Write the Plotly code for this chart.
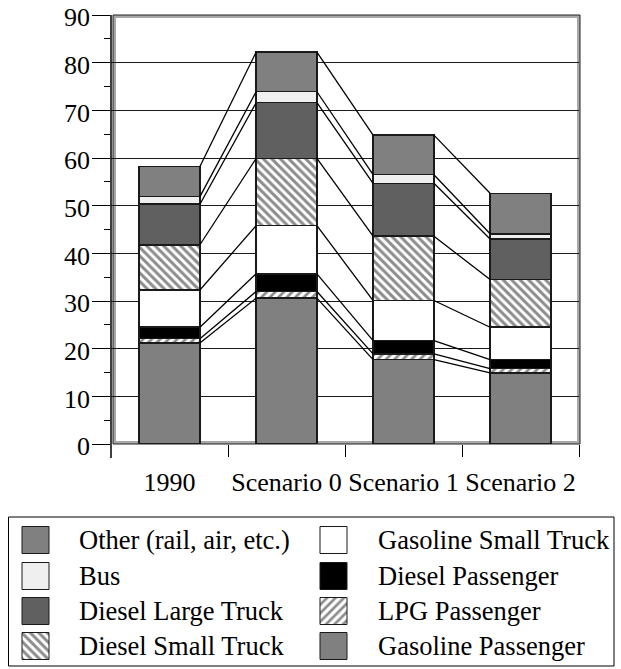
import plotly.graph_objects as go

# ---------------- data ----------------
categories = ["1990", "Scenario 0", "Scenario 1", "Scenario 2"]
gasoline_passenger = [21.2, 30.6, 17.7, 14.9]
lpg_passenger = [0.9, 1.4, 1.2, 0.9]
diesel_passenger = [2.4, 3.7, 2.8, 1.9]
gasoline_small_truck = [7.8, 10.1, 8.4, 6.8]
diesel_small_truck = [9.5, 14.1, 13.5, 10.0]
diesel_large_truck = [8.5, 11.7, 11.1, 8.5]
bus = [1.6, 2.3, 1.8, 1.1]
other = [6.3, 8.3, 8.3, 8.5]

y_ticks = [0, 10, 20, 30, 40, 50, 60, 70, 80, 90]
y_tick_labels = [str(v) for v in y_ticks]

# stack order bottom -> top
series = [
    ("Gasoline Passenger", gasoline_passenger, dict(color="#808080")),
    ("LPG Passenger", lpg_passenger, dict(color="white", pattern=dict(shape="/", fgcolor="#1a1a1a", bgcolor="white", size=6, solidity=0.45))),
    ("Diesel Passenger", diesel_passenger, dict(color="black")),
    ("Gasoline Small Truck", gasoline_small_truck, dict(color="white")),
    ("Diesel Small Truck", diesel_small_truck, dict(color="white", pattern=dict(shape="\\", fgcolor="#1a1a1a", bgcolor="white", size=6, solidity=0.5))),
    ("Diesel Large Truck", diesel_large_truck, dict(color="#606060")),
    ("Bus", bus, dict(color="#efefef")),
    ("Other (rail, air, etc.)", other, dict(color="#808080")),
]

W, H = 621, 669
FONT = "Liberation Serif"
BAR_W = 0.52
xs = list(range(len(categories)))

fig = go.Figure()

for name, vals, mk in series:
    m = dict(mk)
    m["line"] = dict(color="#1a1a1a", width=1.5)
    fig.add_trace(go.Bar(x=xs, y=vals, name=name, marker=m, width=BAR_W,
                         showlegend=False, xaxis="x", yaxis="y"))

# series lines connecting tops of segments
cum = [0.0] * len(categories)
for name, vals, mk in series:
    cum = [c + v for c, v in zip(cum, vals)]
    for i in range(len(categories) - 1):
        fig.add_trace(go.Scatter(x=[xs[i] + BAR_W / 2, xs[i + 1] - BAR_W / 2],
                                 y=[cum[i], cum[i + 1]], mode="lines",
                                 line=dict(color="black", width=1.3),
                                 showlegend=False, hoverinfo="skip",
                                 xaxis="x", yaxis="y"))

# ---------------- custom legend (pixel coords on x2/y2) ----------------
legend_cols = [
    ["Other (rail, air, etc.)", "Bus", "Diesel Large Truck", "Diesel Small Truck"],
    ["Gasoline Small Truck", "Diesel Passenger", "LPG Passenger", "Gasoline Passenger"],
]
style = {n: mk for n, v, mk in series}
col_sw_x = [22, 320]
col_tx_x = [77, 376]
row_y = [540, 576, 611, 646]
SW = 27
annotations = []
for ci, col in enumerate(legend_cols):
    for ri, name in enumerate(col):
        x0 = col_sw_x[ci]
        x1 = x0 + SW
        y0 = row_y[ri] - SW / 2
        y1 = row_y[ri] + SW / 2
        mk = style[name]
        kw = dict(fill="toself", fillcolor=mk["color"])
        if "pattern" in mk:
            p = mk["pattern"]
            kw["fillpattern"] = dict(shape=p["shape"], fgcolor=p["fgcolor"], bgcolor="white",
                                     size=p["size"], solidity=p["solidity"])
        fig.add_trace(go.Scatter(x=[x0, x1, x1, x0, x0], y=[y0, y0, y1, y1, y0],
                                 mode="lines", line=dict(color="#1a1a1a", width=1),
                                 showlegend=False, hoverinfo="skip",
                                 xaxis="x2", yaxis="y2", **kw))
        annotations.append(dict(x=col_tx_x[ci], y=row_y[ri], xref="x2", yref="y2",
                                text=name, showarrow=False, xanchor="left", yanchor="middle",
                                font=dict(family=FONT, size=26.5, color="black")))

# plot area in pixels (axis area) and frame
AL, AR, PT, PB = 111, 579, 15, 444
FL, FR = 113, 580
TICKLEN = 18

# y tick labels placed on the y scale, right-aligned against the tick marks
for v, t in zip(y_ticks, y_tick_labels):
    annotations.append(dict(x=(AL - TICKLEN - 1) / W, y=v, xref="paper", yref="y",
                            text=t, showarrow=False, xanchor="right", yanchor="middle",
                            yshift=-3,
                            font=dict(family=FONT, size=26, color="black")))


def px(x):
    return x / W


def py(y):
    return 1 - y / H


shapes = [
    # plot frame (gray band + thin dark outline)
    dict(type="rect", xref="paper", yref="paper", x0=px(FL + 1.5), x1=px(FR - 1.5),
         y0=py(PT + 1.5), y1=py(PB - 1.5),
         line=dict(color="#a8a8a8", width=3), layer="below"),
    dict(type="rect", xref="paper", yref="paper", x0=px(FL), x1=px(FR), y0=py(PT), y1=py(PB),
         line=dict(color="#222", width=1), layer="below"),
    # y axis line, extended below the plot
    dict(type="line", xref="paper", yref="paper", x0=px(AL), x1=px(AL), y0=py(PT), y1=py(458),
         line=dict(color="black", width=1.5)),
    # legend border
    dict(type="rect", xref="paper", yref="paper", x0=px(8.5), x1=px(614), y0=py(517), y1=py(666),
         line=dict(color="black", width=1)),
]

fig.update_layout(
    width=W, height=H,
    margin=dict(l=0, r=0, t=0, b=0),
    paper_bgcolor="white", plot_bgcolor="rgba(0,0,0,0)",
    barmode="stack",
    showlegend=False,
    font=dict(family=FONT, size=26, color="black"),
    xaxis=dict(domain=[AL / W, AR / W], range=[-0.5, 3.5], tickvals=xs, ticktext=categories,
               ticks="", showgrid=False, zeroline=False, showline=False,
               tickfont=dict(family=FONT, size=26, color="black"),
               ticklabelstandoff=20,
               minor=dict(tickvals=[0.5, 1.5, 2.5, 3.5], ticks="outside", ticklen=12,
                          tickcolor="black", tickwidth=1.3, showgrid=False),
               automargin=False, anchor="y", fixedrange=True),
    yaxis=dict(domain=[1 - PB / H, 1 - PT / H], range=[0, 90], tickvals=y_ticks,
               showticklabels=False,
               ticks="outside", ticklen=TICKLEN, tickcolor="black", tickwidth=1.3,
               showgrid=True, gridcolor="#1a1a1a", gridwidth=1,
               zeroline=False, showline=False,
               minor=dict(dtick=5, ticks="outside", ticklen=6, tickcolor="black",
                          tickwidth=1.3, showgrid=False),
               anchor="x", automargin=False, fixedrange=True),
    xaxis2=dict(domain=[0, 1], range=[0, W], visible=False, anchor="y2", fixedrange=True),
    yaxis2=dict(domain=[0, 1], range=[H, 0], visible=False, anchor="x2", fixedrange=True),
    shapes=shapes,
    annotations=annotations,
)

fig.write_html("out.html", config={"displayModeBar": False},
               post_script="document.body.style.margin='0px';")
